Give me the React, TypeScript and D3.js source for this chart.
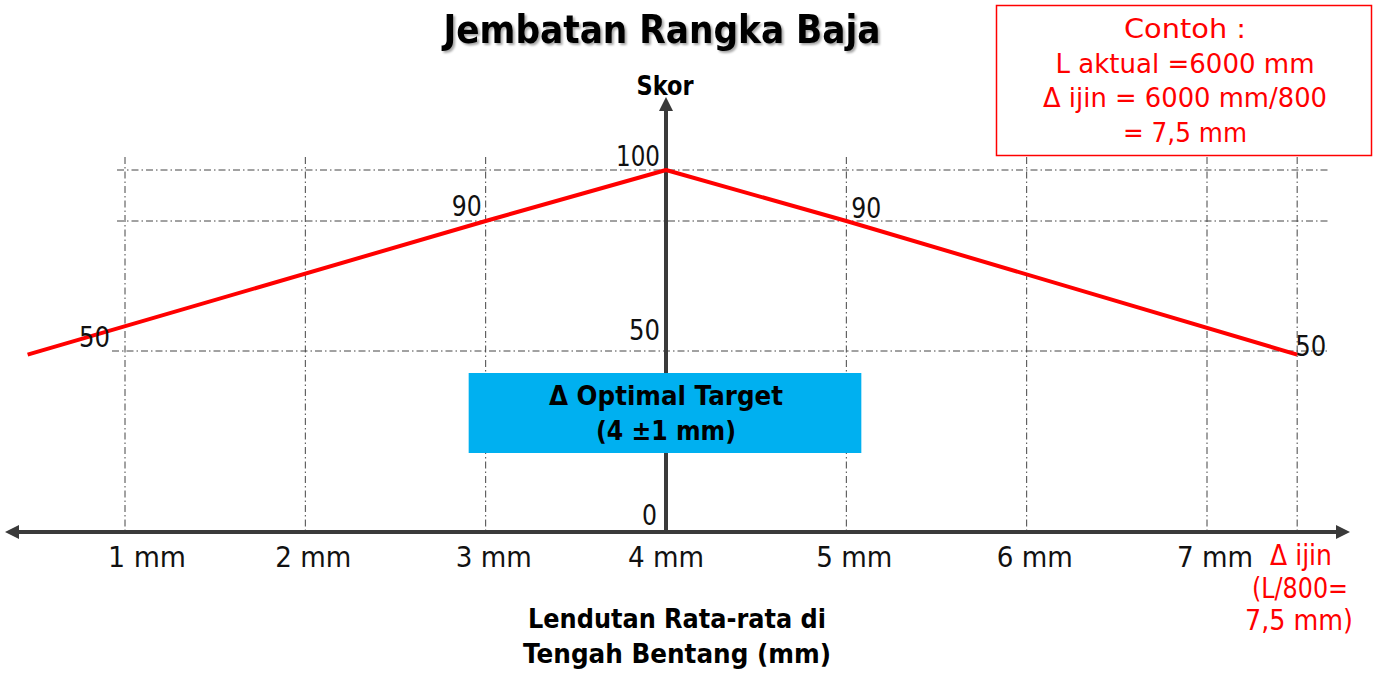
import * as d3 from "d3";
import React from "react";

const W = 1381;
const H = 673;

// x ticks (mm) and their labels
const tickValues = [1, 2, 3, 4, 5, 6, 7];
const tickLabels = ["1 mm", "2 mm", "3 mm", "4 mm", "5 mm", "6 mm", "7 mm"];
const vGridValues = [1, 2, 3, 5, 6, 7, 7.5];

// score levels used for horizontal guides
const scoreLevels = [0, 50, 90, 100];
const hGridLevels = [50, 90, 100];

// the score curve: lendutan (mm) -> skor
const curveMm = [0.46, 3, 4, 5, 7.5];
const curveScore = [49, 90, 100, 90, 49];

// optimal target
const targetCenter = 4;
const targetTol = 1;

const exampleLines = ["Contoh :", "L aktual =6000 mm", "Δ ijin = 6000 mm/800", "= 7,5 mm"];
const ijinLines = ["Δ ijin", "(L/800=", "7,5 mm)"];
const xTitleLines = ["Lendutan Rata-rata di", "Tengah Bentang (mm)"];

const FONT = "'DejaVu Sans', 'Noto Sans', sans-serif";
const AXIS = "#3a3a3a";
const RED = "#ff0000";

// text with a fixed width so the narrow-ish reference font is matched
function T({ x, y, w, size = 28, anchor = "middle", bold = false, fill = "#111", children, filter }: any) {
  return (
    <text
      x={x}
      y={y}
      textAnchor={anchor}
      fontFamily={FONT}
      fontSize={size}
      fontWeight={bold ? "bold" : "normal"}
      fill={fill}
      textLength={w}
      lengthAdjust="spacingAndGlyphs"
      filter={filter}
    >
      {children}
    </text>
  );
}

export default function App() {
  const x = d3.scaleLinear().domain([1, 7]).range([125, 1207]);
  const y = d3.scaleLinear().domain(scoreLevels).range([532, 351, 221, 170]);

  const line = d3
    .line<number>()
    .x((d) => x(d))
    .y((d, i) => y(curveScore[i]));

  const dash = "7,3,1.5,3";

  return (
    <svg width={W} height={H} style={{ position: "absolute", left: 0, top: 0, background: "#fff" }}>
      <defs>
        <filter id="shadow" x="-5%" y="-20%" width="110%" height="150%">
          <feDropShadow dx="2" dy="2" stdDeviation="1" floodColor="#000" floodOpacity="0.35" />
        </filter>
      </defs>

      {/* Title */}
      <T x={662} y={43} w={437} size={39} bold fill="#000" filter="url(#shadow)">
        Jembatan Rangka Baja
      </T>

      {/* horizontal grid */}
      {hGridLevels.map((v) => (
        <line
          key={"h" + v}
          x1={v === 50 ? 112 : 117}
          x2={1330}
          y1={y(v)}
          y2={y(v)}
          stroke="#444"
          strokeWidth={1}
          strokeDasharray={dash}
        />
      ))}

      {/* vertical grid */}
      {vGridValues.map((v) => (
        <line
          key={"v" + v}
          x1={x(v)}
          x2={x(v)}
          y1={157}
          y2={y(0)}
          stroke="#444"
          strokeWidth={1}
          strokeDasharray={dash}
        />
      ))}

      {/* axes */}
      <line x1={16} x2={1338} y1={y(0)} y2={y(0)} stroke={AXIS} strokeWidth={4} />
      <path d={`M5,${y(0)} L19,${y(0) - 7} L19,${y(0) + 7} Z`} fill={AXIS} />
      <path d={`M1350,${y(0)} L1336,${y(0) - 7} L1336,${y(0) + 7} Z`} fill={AXIS} />
      <line x1={x(4)} x2={x(4)} y1={y(0)} y2={108} stroke={AXIS} strokeWidth={4} />
      <path d={`M${x(4)},97 L${x(4) - 7},111 L${x(4) + 7},111 Z`} fill={AXIS} />

      {/* optimal target box */}
      <rect
        x={x(targetCenter - targetTol) - 17}
        y={373}
        width={x(targetCenter + targetTol) - x(targetCenter - targetTol) + 32}
        height={80}
        fill="#00b0f0"
      />
      <T x={x(targetCenter)} y={405} w={234} size={26} bold fill="#000">
        Δ Optimal Target
      </T>
      <T x={x(targetCenter)} y={440} w={140} size={26} bold fill="#000">
        (4 ±1 mm)
      </T>

      {/* curve */}
      <path d={line(curveMm) || ""} fill="none" stroke={RED} strokeWidth={4} strokeLinejoin="round" />

      {/* value labels */}
      <T x={x(4) - 6} y={y(100) - 4} w={44} anchor="end">100</T>
      <T x={x(3) - 4} y={y(90) - 5} w={30} anchor="end">90</T>
      <T x={x(5) + 5} y={y(90) - 3} w={30} anchor="start">90</T>
      <T x={x(1) - 15} y={y(50) - 4} w={31} anchor="end">50</T>
      <T x={x(4) - 6} y={y(50) - 11} w={31} anchor="end">50</T>
      <T x={x(7.5) - 2} y={y(50) + 5} w={31} anchor="start">50</T>
      <T x={x(4) - 9} y={y(0) - 7} w={15} anchor="end">0</T>

      {/* axis titles */}
      <T x={x(4) - 1} y={95} w={57} size={26} bold fill="#000">
        Skor
      </T>
      {xTitleLines.map((t, i) => (
        <T key={t} x={677} y={628 + i * 35} w={i === 0 ? 298 : 308} size={26} bold fill="#000">
          {t}
        </T>
      ))}

      {/* x tick labels */}
      {tickValues.map((v, i) => (
        <T key={v} x={x(v) + (v === 1 ? 22 : v === 4 ? 0 : 8)} y={567} w={v === 1 ? 78 : 76} size={29}>
          {tickLabels[i]}
        </T>
      ))}

      {/* allowable deflection */}
      <T x={1301} y={565} w={62} size={28} fill={RED}>{ijinLines[0]}</T>
      <T x={1300} y={598} w={96} size={28} fill={RED}>{ijinLines[1]}</T>
      <T x={1299} y={630} w={108} size={28} fill={RED}>{ijinLines[2]}</T>

      {/* example box */}
      <rect x={996.5} y={5.5} width={375} height={150} fill="#fff" stroke={RED} strokeWidth={1.5} />
      {exampleLines.map((t, i) => (
        <T key={t} x={1185} y={38 + i * 34.5} w={[122, 259, 284, 124][i]} size={27} fill={RED}>
          {t}
        </T>
      ))}
    </svg>
  );
}
